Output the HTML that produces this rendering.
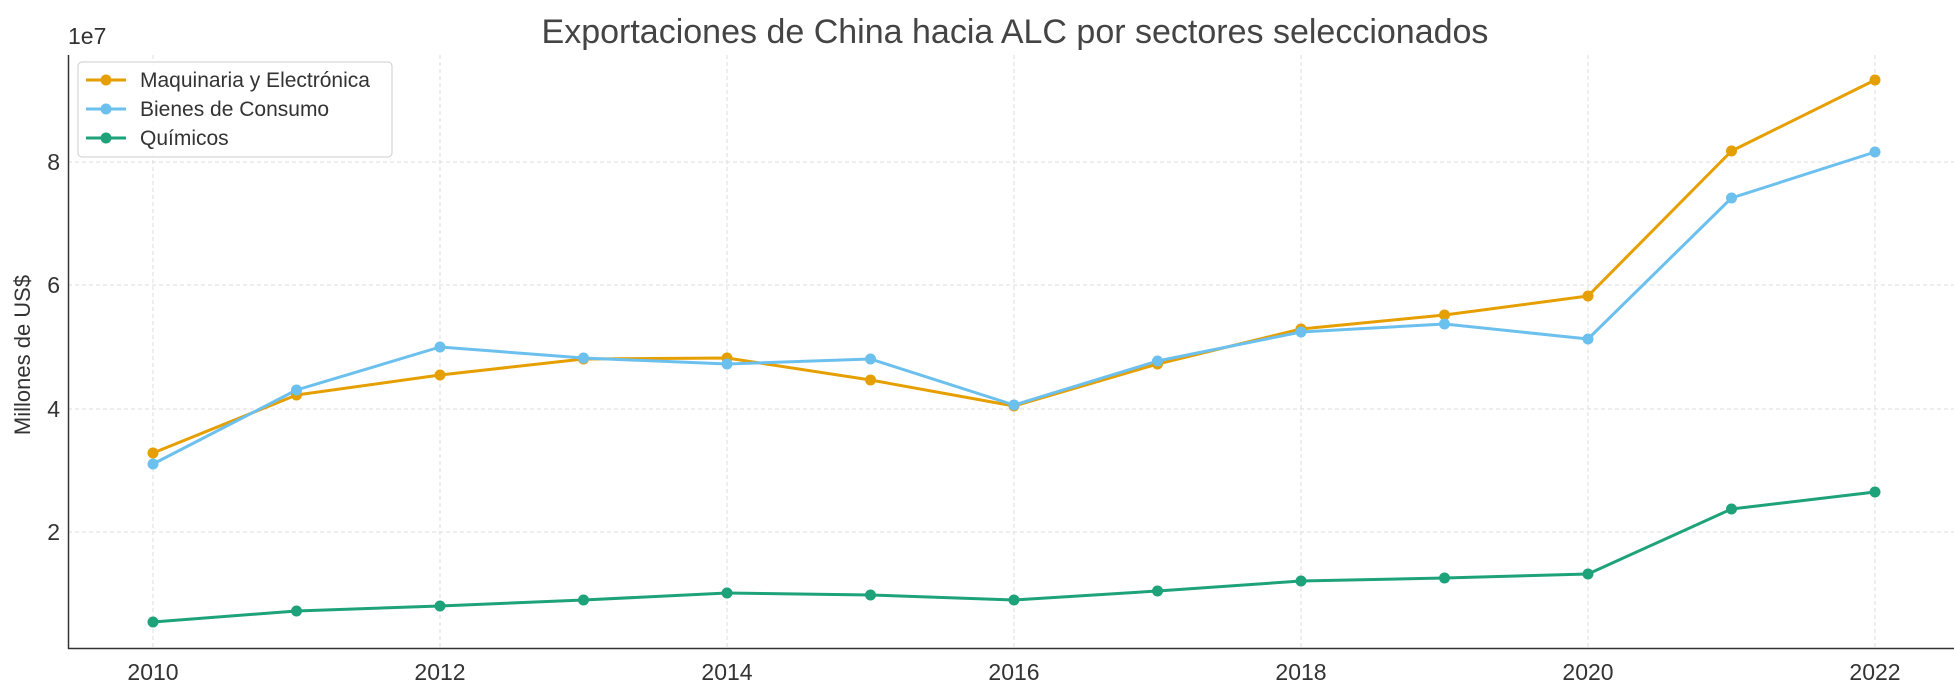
<!DOCTYPE html>
<html><head><meta charset="utf-8"><style>html,body{margin:0;padding:0;background:#fff}svg{display:block}</style></head>
<body>
<svg width="1954" height="693" viewBox="0 0 1954 693" xmlns="http://www.w3.org/2000/svg" font-family="'Liberation Sans','DejaVu Sans',sans-serif">
<rect width="1954" height="693" fill="#fff"/>
<g stroke="#ddd" stroke-width="1" stroke-dasharray="4,3">
<line x1="153" y1="55" x2="153" y2="648"/><line x1="440" y1="55" x2="440" y2="648"/><line x1="727" y1="55" x2="727" y2="648"/><line x1="1014" y1="55" x2="1014" y2="648"/><line x1="1301" y1="55" x2="1301" y2="648"/><line x1="1588" y1="55" x2="1588" y2="648"/><line x1="1875" y1="55" x2="1875" y2="648"/>
<line x1="68" y1="532" x2="1954" y2="532"/><line x1="68" y1="409" x2="1954" y2="409"/><line x1="68" y1="285" x2="1954" y2="285"/><line x1="68" y1="162" x2="1954" y2="162"/>
</g>
<line x1="68.5" y1="55" x2="68.5" y2="649" stroke="#333" stroke-width="1.5"/>
<line x1="68" y1="648.5" x2="1954" y2="648.5" stroke="#333" stroke-width="1.5"/>
<g font-size="23" fill="#333" text-anchor="middle">
<text x="153" y="680">2010</text><text x="440" y="680">2012</text><text x="727" y="680">2014</text><text x="1014" y="680">2016</text><text x="1301" y="680">2018</text><text x="1588" y="680">2020</text><text x="1875" y="680">2022</text>
</g>
<g font-size="23" fill="#333" text-anchor="end">
<text x="60" y="540">2</text><text x="60" y="417">4</text><text x="60" y="293">6</text><text x="60" y="170">8</text>
</g>
<text x="68" y="44" font-size="23" fill="#333">1e7</text>
<text x="30" y="355" font-size="22" fill="#333" text-anchor="middle" transform="rotate(-90 30 355)">Millones de US$</text>
<text x="1015" y="43" font-size="34" fill="#444" text-anchor="middle">Exportaciones de China hacia ALC por sectores seleccionados</text>
<g fill="none" stroke-width="3" stroke-linejoin="round">
<polyline stroke="#E69F00" points="153,453 296.5,395 440,375 583.5,359 727,358 870.5,380 1014,406 1157.5,364 1301,329 1444.5,315 1588,296 1731.5,151 1875,80"/>
<polyline stroke="#6CC0EE" points="153,464 296.5,390 440,347 583.5,358 727,364 870.5,359 1014,405 1157.5,361 1301,332 1444.5,324 1588,339 1731.5,198 1875,152"/>
<polyline stroke="#1DA27A" points="153,622 296.5,611 440,606 583.5,600 727,593 870.5,595 1014,600 1157.5,591 1301,581 1444.5,578 1588,574 1731.5,509 1875,492"/>
</g>
<g fill="#E69F00"><circle cx="153" cy="453" r="5.5"/><circle cx="296.5" cy="395" r="5.5"/><circle cx="440" cy="375" r="5.5"/><circle cx="583.5" cy="359" r="5.5"/><circle cx="727" cy="358" r="5.5"/><circle cx="870.5" cy="380" r="5.5"/><circle cx="1014" cy="406" r="5.5"/><circle cx="1157.5" cy="364" r="5.5"/><circle cx="1301" cy="329" r="5.5"/><circle cx="1444.5" cy="315" r="5.5"/><circle cx="1588" cy="296" r="5.5"/><circle cx="1731.5" cy="151" r="5.5"/><circle cx="1875" cy="80" r="5.5"/></g>
<g fill="#6CC0EE"><circle cx="153" cy="464" r="5.5"/><circle cx="296.5" cy="390" r="5.5"/><circle cx="440" cy="347" r="5.5"/><circle cx="583.5" cy="358" r="5.5"/><circle cx="727" cy="364" r="5.5"/><circle cx="870.5" cy="359" r="5.5"/><circle cx="1014" cy="405" r="5.5"/><circle cx="1157.5" cy="361" r="5.5"/><circle cx="1301" cy="332" r="5.5"/><circle cx="1444.5" cy="324" r="5.5"/><circle cx="1588" cy="339" r="5.5"/><circle cx="1731.5" cy="198" r="5.5"/><circle cx="1875" cy="152" r="5.5"/></g>
<g fill="#1DA27A"><circle cx="153" cy="622" r="5.5"/><circle cx="296.5" cy="611" r="5.5"/><circle cx="440" cy="606" r="5.5"/><circle cx="583.5" cy="600" r="5.5"/><circle cx="727" cy="593" r="5.5"/><circle cx="870.5" cy="595" r="5.5"/><circle cx="1014" cy="600" r="5.5"/><circle cx="1157.5" cy="591" r="5.5"/><circle cx="1301" cy="581" r="5.5"/><circle cx="1444.5" cy="578" r="5.5"/><circle cx="1588" cy="574" r="5.5"/><circle cx="1731.5" cy="509" r="5.5"/><circle cx="1875" cy="492" r="5.5"/></g>
<rect x="78" y="62" width="314" height="95" rx="4" fill="#fff" fill-opacity="0.85" stroke="#ccc"/>
<g stroke-width="3"><line x1="86" y1="80" x2="126" y2="80" stroke="#E69F00"/><line x1="86" y1="109" x2="126" y2="109" stroke="#6CC0EE"/><line x1="86" y1="138" x2="126" y2="138" stroke="#1DA27A"/></g>
<circle cx="106" cy="80" r="5.5" fill="#E69F00"/><circle cx="106" cy="109" r="5.5" fill="#6CC0EE"/><circle cx="106" cy="138" r="5.5" fill="#1DA27A"/>
<g font-size="21" fill="#333"><text x="140" y="87">Maquinaria y Electrónica</text><text x="140" y="116">Bienes de Consumo</text><text x="140" y="145">Químicos</text></g>
</svg>
</body></html>
